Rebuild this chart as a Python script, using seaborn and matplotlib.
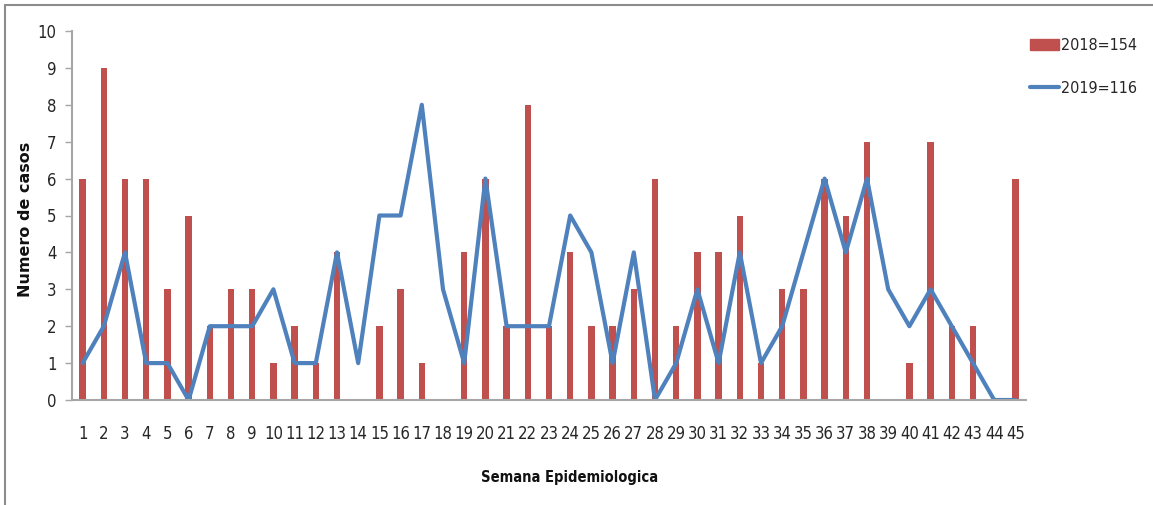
import matplotlib
matplotlib.use("Agg")
import matplotlib.pyplot as plt
import seaborn as sns
import pandas as pd
from matplotlib.patches import Rectangle
from matplotlib.lines import Line2D

weeks = list(range(1, 46))
cases_2018 = [6, 9, 6, 6, 3, 5, 2, 3, 3, 1, 2, 1, 4, 0, 2, 3, 1, 0, 4, 6, 2, 8, 2, 4, 2,
              2, 3, 6, 2, 4, 4, 5, 1, 3, 3, 6, 5, 7, 0, 1, 7, 2, 2, 0, 6]
cases_2019 = [1, 2, 4, 1, 1, 0, 2, 2, 2, 3, 1, 1, 4, 1, 5, 5, 8, 3, 1, 6, 2, 2, 2, 5, 4,
              1, 4, 0, 1, 3, 1, 4, 1, 2, 4, 6, 4, 6, 3, 2, 3, 2, 1, 0, 0]
label_2018 = "2018=154"
label_2019 = "2019=116"
y_ticks = list(range(0, 11))

sns.set_theme(style="white")
plt.rcParams['font.family'] = ['DejaVu Sans']
plt.rcParams['font.stretch'] = 'condensed'

df = pd.DataFrame({"semana": weeks, "c2018": cases_2018, "c2019": cases_2019})

W, H = 1153, 505
fig = plt.figure(figsize=(W / 100, H / 100), dpi=100)
ax = fig.add_axes([72 / W, 1 - 400 / H, (1026 - 72) / W, (400 - 31) / H])

red = "#C0504D"
blue = "#4F81BD"

sns.barplot(data=df, x="semana", y="c2018", native_scale=True, color=red,
            saturation=1, width=0.3, linewidth=0, ax=ax)
sns.lineplot(data=df, x="semana", y="c2019", color=blue, linewidth=3.0, ax=ax,
             legend=False)

ax.set_xlim(0.5, 45.5)
ax.set_ylim(0, 10)
ax.set_xticks(weeks)
ax.set_xticklabels([str(w) for w in weeks], fontsize=12, color="#262626")
ax.set_yticks(y_ticks)
ax.set_yticklabels([str(v) for v in y_ticks], fontsize=12, color="#262626")
ax.tick_params(axis="y", which="both", left=True, length=5, width=1, color="#A6A6A6", pad=6)
ax.tick_params(axis="x", which="both", bottom=False, pad=12)

for s in ["top", "right"]:
    ax.spines[s].set_visible(False)
for s in ["left", "bottom"]:
    ax.spines[s].set_color("#A6A6A6")
    ax.spines[s].set_linewidth(1.5)

ax.set_xlabel("Semana Epidemiologica", fontsize=10.5, fontweight="bold", color="#111111")
ax.xaxis.set_label_coords((570 - 72) / (1026 - 72), -(470 - 400) / (400 - 31))
ax.set_ylabel("Numero de casos", fontsize=11.5, fontweight="bold", color="#111111",
              fontstretch="normal")
ax.yaxis.set_label_coords(-(72 - 33) / (1026 - 72), 0.49)

handles = [Rectangle((0, 0), 1, 1, color=red),
           Line2D([0], [0], color=blue, linewidth=3.0)]
fig.legend(handles, [label_2018, label_2019], loc="upper left",
           bbox_to_anchor=(1030 / W, 1 - 38 / H), frameon=False, fontsize=11.5,
           borderpad=0, borderaxespad=0, handlelength=1.8, handleheight=0.7,
           handletextpad=0.15, labelspacing=1.75)

# figure border (top and left edges visible)
fig.add_artist(Line2D([5 / W, 1], [1 - 5 / H, 1 - 5 / H], transform=fig.transFigure,
                      color="#8C8C8C", linewidth=1.5))
fig.add_artist(Line2D([5 / W, 5 / W], [0, 1 - 5 / H], transform=fig.transFigure,
                      color="#8C8C8C", linewidth=1.5))

fig.savefig("out.png", dpi=100)
